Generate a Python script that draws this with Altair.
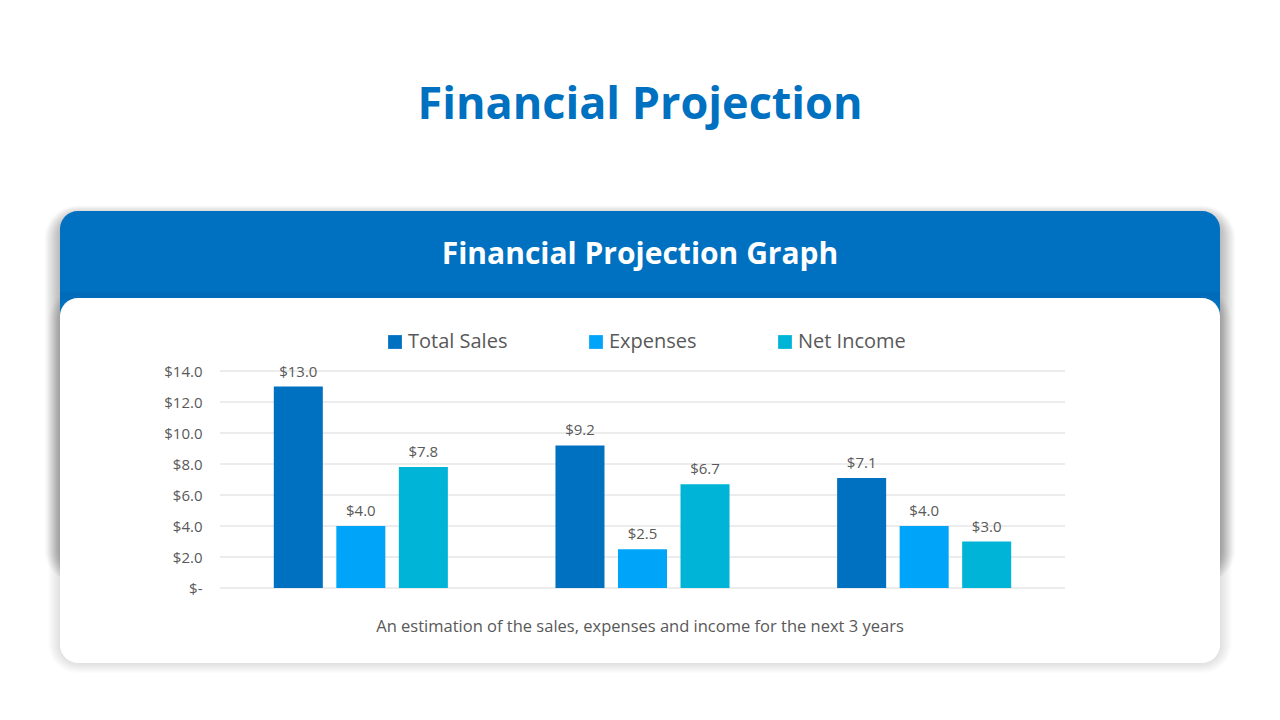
import altair as alt
import pandas as pd

# ---- data ----
years = ["Year 1", "Year 2", "Year 3"]
series = ["Total Sales", "Expenses", "Net Income"]
total_sales = [13.0, 9.2, 7.1]
expenses = [4.0, 2.5, 4.0]
net_income = [7.8, 6.7, 3.0]
colors = ["#0070C0", "#00A5FA", "#00B4D7"]
y_ticks = [0, 2, 4, 6, 8, 10, 12, 14]

title_text = "Financial Projection"
header_text = "Financial Projection Graph"
caption_text = "An estimation of the sales, expenses and income for the next 3 years"

rows = []
for i, yr in enumerate(years):
    for s, vals in zip(series, [total_sales, expenses, net_income]):
        rows.append({"year": yr, "series": s, "value": vals[i]})
df = pd.DataFrame(rows)
ticks_df = pd.DataFrame({"value": y_ticks})

FONT = "Open Sans"
GRAY = "#595959"

# plot-area origin on page
OX, OY = 220, 371
W, H = 845, 217


def px(x):
    return x - OX


def py(y):
    return y - OY


one = alt.Data(values=[{"k": 1}])


def rect(x1, y1, x2, y2, color, opacity=1.0, radius=0):
    return alt.Chart(one).mark_rect(
        color=color, opacity=opacity, cornerRadius=radius
    ).encode(
        x=alt.value(px(x1)), x2=alt.value(px(x2)),
        y=alt.value(py(y1)), y2=alt.value(py(y2)),
    )


def text(x, y, s, size, color, weight="normal"):
    return alt.Chart(one).mark_text(
        font=FONT, fontSize=size, color=color, fontWeight=weight,
        align="center", baseline="middle",
    ).encode(x=alt.value(px(x)), y=alt.value(py(y)), text=alt.value(s))


layers = []
# soft shadow behind the card (header zone, darker)
for i in range(14):
    layers.append(rect(59 - i * 1.1, 216 - i * 0.8, 1221 + i * 1.1, 570 + i * 1.0, "#000000", 0.019, 20 + i))
# lighter shadow around the white card
for i in range(10):
    layers.append(rect(59 - i * 1.2, 300 - i, 1221 + i * 1.2, 664 + i * 1.0, "#000000", 0.012, 20 + i))
# blue header
layers.append(rect(60, 211, 1220, 330, "#0070C0", 1.0, 18))
layers.append(rect(60, 292, 1220, 300, "#0067B3", 0.6, 0))
# white card
layers.append(rect(60, 298, 1220, 663, "#FFFFFF", 1.0, 18))

layers.append(text(640, 105, title_text, 45, "#0070C0", "bold"))
layers.append(text(640, 255, header_text, 30, "#FFFFFF", "bold"))
layers.append(text(640, 627, caption_text, 16.5, GRAY))

x_enc = alt.X("year:N", sort=years, axis=None,
              scale=alt.Scale(paddingInner=0.382, paddingOuter=0.191))
xo_enc = alt.XOffset("series:N", sort=series,
                     scale=alt.Scale(paddingInner=0.216, paddingOuter=0))
y_scale = alt.Scale(domain=[0, 14], nice=False)
y_enc = alt.Y("value:Q", title=None, scale=y_scale,
              axis=alt.Axis(values=y_ticks, grid=False, zindex=1,
                            domain=False, ticks=False, labelPadding=18,
                            labelOverlap=False, labelFlush=False,
                            labelFontSize=15, labelColor=GRAY, labelFont=FONT,
                            labelExpr="datum.value == 0 ? '$-\u00a0\u00a0' : '$' + format(datum.value, '.1f')"))

grid = alt.Chart(ticks_df).mark_rule(color="#D9D9D9", strokeWidth=1).encode(
    y=y_enc,
    x=alt.value(0), x2=alt.value(W),
)

bars = alt.Chart(df).mark_bar().encode(
    x=x_enc, xOffset=xo_enc, y=y_enc,
    color=alt.Color("series:N", sort=series,
                    scale=alt.Scale(domain=series, range=colors),
                    legend=alt.Legend(orient="none", legendX=165, legendY=-39,
                                      direction="horizontal", title=None,
                                      symbolType="square", symbolSize=190,
                                      symbolStrokeWidth=0, labelFontSize=20,
                                      labelFont=FONT, labelColor=GRAY,
                                      labelOffset=3, columnPadding=78)),
)

labels = alt.Chart(df).mark_text(
    font=FONT, fontSize=15, color=GRAY, baseline="bottom", dy=-7
).encode(
    x=x_enc, xOffset=xo_enc, y=y_enc,
    text=alt.Text("value:Q", format="$.1f"),
)

layers += [grid, bars, labels]

chart = alt.layer(*layers).properties(
    width=W, height=H,
    autosize=alt.AutoSizeParams(type="none"),
    padding={"left": OX - 8, "top": OY - 8, "right": 1264 - (OX - 8) - W, "bottom": 704 - (OY - 8) - H},
    background="#FFFFFF",
).configure_view(stroke=None)

chart.save("out.html", embed_options={"renderer": "svg", "actions": False})
